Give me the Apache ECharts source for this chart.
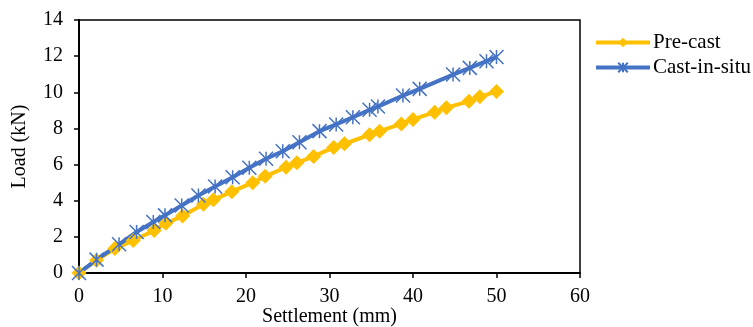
<!DOCTYPE html>
<html>
<head>
<meta charset="utf-8">
<script src="https://cdn.jsdelivr.net/npm/echarts@6/dist/echarts.min.js"></script>
<style>
  html, body { margin: 0; padding: 0; background: #fff; }
  #chart { width: 753px; height: 327px; }
</style>
</head>
<body>
<div id="chart"></div>
<script>
// settlement (mm) / load (kN)
const precastX = [0, 2.1, 4.3, 6.5, 9.0, 10.4, 12.4, 14.9, 16.1, 18.3, 20.8, 22.3, 24.8, 26.1, 28.1, 30.5, 31.8, 34.8, 36.0, 38.6, 40.0, 42.6, 44.0, 46.7, 48.0, 50.0];
const precastY = [0, 0.7, 1.35, 1.8, 2.35, 2.75, 3.15, 3.8, 4.05, 4.5, 5.0, 5.35, 5.85, 6.1, 6.45, 6.95, 7.15, 7.65, 7.85, 8.25, 8.5, 8.9, 9.15, 9.5, 9.75, 10.05];
const castX = [0, 2.1, 4.8, 6.9, 8.9, 10.3, 12.3, 14.3, 16.3, 18.4, 20.4, 22.4, 24.4, 26.4, 28.8, 30.8, 32.8, 34.8, 35.8, 38.8, 40.8, 44.8, 46.8, 48.8, 50.0];
const castY = [0, 0.74, 1.59, 2.27, 2.82, 3.19, 3.74, 4.29, 4.79, 5.3, 5.82, 6.32, 6.74, 7.24, 7.85, 8.22, 8.62, 9.03, 9.21, 9.82, 10.19, 10.98, 11.35, 11.72, 11.95];

const seriesNames = ['Pre-cast', 'Cast-in-situ'];
const FONT = '"Liberation Serif", "Times New Roman", serif';

const pairs = (xs, ys) => xs.map((x, i) => [x, ys[i]]);

// excel-like star marker: X with a vertical stroke
const starPath = 'path://M0,0L10,10M10,0L0,10M5,0L5,10';

const chart = echarts.init(document.getElementById('chart'));
chart.setOption({
  animation: false,
  textStyle: { fontFamily: FONT },
  grid: {
    left: 79, right: 173, top: 20, bottom: 54,
    outerBoundsMode: 'none', containLabel: false,
    show: true, borderColor: '#000', borderWidth: 1.5
  },
  legend: {
    orient: 'vertical',
    left: 594, top: 32, padding: 0,
    itemWidth: 54, itemHeight: 12, itemGap: 4,
    lineStyle: { width: 4 },
    textStyle: { fontFamily: FONT, fontSize: 21, color: '#000', padding: [0, 0, 0, -2] },
    data: seriesNames
  },
  xAxis: {
    type: 'value', min: 0, max: 60, interval: 10,
    name: 'Settlement (mm)', nameLocation: 'middle', nameGap: 34,
    nameMoveOverlap: false,
    nameTextStyle: { fontFamily: FONT, fontSize: 20, color: '#000' },
    axisLine: { lineStyle: { color: '#000', width: 2 } },
    axisTick: { show: true, length: 5, lineStyle: { color: '#000', width: 1.5 } },
    axisLabel: { fontFamily: FONT, fontSize: 20, color: '#000', margin: 14 },
    splitLine: { show: false }
  },
  yAxis: {
    type: 'value', min: 0, max: 14, interval: 2,
    name: 'Load (kN)', nameLocation: 'middle', nameGap: 49,
    nameMoveOverlap: false,
    nameTextStyle: { fontFamily: FONT, fontSize: 20, color: '#000' },
    axisLine: { show: true, lineStyle: { color: '#000', width: 2 } },
    axisTick: { show: true, length: 5, lineStyle: { color: '#000', width: 1.5 } },
    axisLabel: { fontFamily: FONT, fontSize: 20, color: '#000', margin: 16 },
    splitLine: { show: false }
  },
  series: [
    {
      name: seriesNames[0],
      type: 'line',
      data: pairs(precastX, precastY),
      symbol: 'diamond', symbolSize: 15,
      lineStyle: { color: '#FFC000', width: 4 },
      itemStyle: { color: '#FFC000' }
    },
    {
      name: seriesNames[1],
      type: 'line',
      data: pairs(castX, castY),
      symbol: starPath, symbolSize: 14,
      lineStyle: { color: '#4472C4', width: 4 },
      itemStyle: { color: 'rgba(0,0,0,0)', borderColor: '#4472C4', borderWidth: 1.5 }
    }
  ]
});
</script>
</body>
</html>
